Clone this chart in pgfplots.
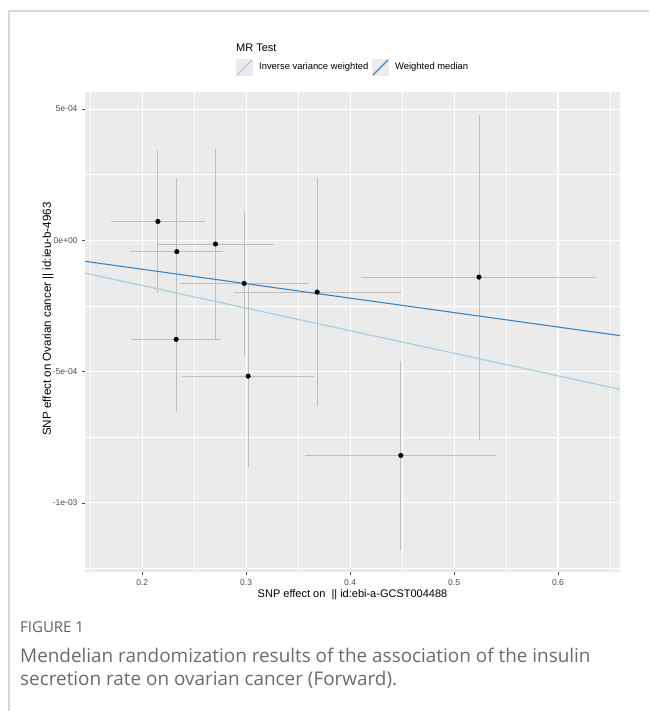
\documentclass[border=0pt]{standalone}
\usepackage{pgfplots}
\pgfplotsset{compat=1.18}
\usepackage{pgfplotstable}
\usepackage{fontspec}
\setmainfont{Liberation Sans}
\newfontfamily\capfont{Open Sans}
\definecolor{ggbg}{HTML}{EBEBEB}
\definecolor{errc}{HTML}{BEBEBE}
\definecolor{ivw}{HTML}{A6CEE3}
\definecolor{wmed}{HTML}{3A85BF}
\definecolor{tickc}{HTML}{4D4D4D}
\definecolor{capc}{HTML}{6B6B6B}

\pgfplotstableread{
x y ex ey
0.2151 7.2e-5 0.0452 2.72e-4
0.2333 -4.3e-5 0.0449 2.79e-4
0.2705 -1.4e-5 0.0567 3.61e-4
0.2327 -3.77e-4 0.0433 2.78e-4
0.2981 -1.64e-4 0.0622 2.75e-4
0.3683 -1.97e-4 0.0802 4.35e-4
0.3019 -5.17e-4 0.0633 3.45e-4
0.5240 -1.40e-4 0.1128 6.19e-4
0.4488 -8.19e-4 0.0919 3.585e-4
}\snpdata

\begin{document}
\begin{tikzpicture}
\useasboundingbox (0pt,0pt) rectangle (649pt,-711pt);
\draw[color=black!15, line width=1.5pt] (9pt,-711pt) -- (9pt,-11pt) -- (649pt,-11pt);
\begin{axis}[
  at={(85pt,-92pt)}, anchor=north west,
  scale only axis, width=535pt, height=480pt,
  xmin=0.145, xmax=0.6596, ymin=-1.263e-3, ymax=5.65e-4,
  axis background/.style={fill=ggbg},
  axis line style={draw=none},
  grid=both,
  major grid style={white, line width=1.1pt},
  minor grid style={white, line width=0.55pt},
  xtick={0.2,0.3,0.4,0.5,0.6},
  xticklabels={{0.2},{0.3},{0.4},{0.5},{0.6}},
  minor xtick={0.15,0.25,0.35,0.45,0.55,0.65},
  ytick={-1e-3,-5e-4,0,5e-4},
  yticklabels={{-1e-03},{-5e-04},{0e+00},{5e-04}},
  minor ytick={-1.25e-3,-7.5e-4,-2.5e-4,2.5e-4},
  xtick pos=bottom, ytick pos=left,
  scaled ticks=false,
  tick align=outside,
  major tick length=3pt, minor tick length=0pt,
  tick style={color=tickc, line width=0.5pt},
  ticklabel style={font=\fontsize{8.5}{10}\selectfont, text=tickc},
  xticklabel style={yshift=-1pt},
  yticklabel style={xshift=-1pt},
  xlabel={SNP effect on\ \ || id:ebi-a-GCST004488},
  ylabel={SNP effect on Ovarian cancer || id:ieu-b-4963},
  xlabel style={at={(axis description cs:0.5,-0.048)}, anchor=center, font=\fontsize{11}{13}\selectfont},
  ylabel style={at={(axis description cs:-0.0692,0.527)}, anchor=center, font=\fontsize{11.6}{13}\selectfont},
  clip=true,
]
\addplot[only marks, mark=*, mark size=2.3pt, black,
  error bars/.cd, x dir=both, x explicit, y dir=both, y explicit,
  error mark=none, error bar style={color=errc, line width=0.9pt}]
  table[x=x, y=y, x error=ex, y error=ey] {\snpdata};
\addplot[ivw, line width=1.1pt] coordinates {(0.145,-1.247e-4) (0.6596,-5.673e-4)};
\addplot[wmed, line width=1.1pt] coordinates {(0.145,-0.7975e-4) (0.6596,-3.628e-4)};
\end{axis}
% legend
\node[anchor=west, font=\fontsize{11}{13}\selectfont, inner sep=0pt] at (236pt,-48pt) {MR Test};
\fill[ggbg] (236pt,-59pt) rectangle (253pt,-76pt);
\draw[ivw, line width=1.1pt] (237pt,-75pt) -- (252pt,-60pt);
\node[anchor=west, font=\fontsize{9.4}{11}\selectfont, inner sep=0pt] at (259pt,-67.5pt) {Inverse variance weighted};
\fill[ggbg] (372pt,-59pt) rectangle (389pt,-76pt);
\draw[wmed, line width=1.1pt] (373pt,-75pt) -- (388pt,-60pt);
\node[anchor=west, font=\fontsize{9.4}{11}\selectfont, inner sep=0pt] at (395pt,-67.5pt) {Weighted median};
% caption
\node[anchor=west, font=\capfont\fontsize{15}{18}\selectfont, text=capc!90!black, inner sep=0pt] at (20pt,-627pt) {FIGURE 1};
\node[anchor=west, font=\capfont\fontsize{18.9}{22}\selectfont, text=capc, inner sep=0pt] at (20pt,-655pt) {Mendelian randomization results of the association of the insulin};
\node[anchor=west, font=\capfont\fontsize{18.9}{22}\selectfont, text=capc, inner sep=0pt] at (20pt,-680pt) {secretion rate on ovarian cancer (Forward).};
\end{tikzpicture}
\end{document}
